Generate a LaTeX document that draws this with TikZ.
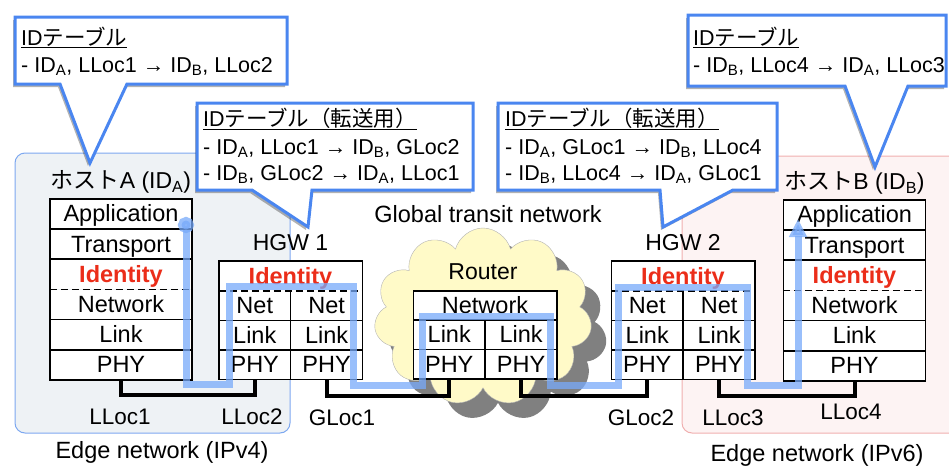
\documentclass[tikz,border=0pt]{standalone}
\usepackage{fontspec}
\setmainfont{Liberation Sans}
\newfontfamily\jpfont{Noto Sans CJK JP}
\usetikzlibrary{positioning,arrows.meta,shapes.symbols,shadows}
\definecolor{calloutblue}{RGB}{74,134,240}
\definecolor{flowblue}{RGB}{120,170,250}
\definecolor{idred}{RGB}{235,45,25}
\definecolor{edgefour}{RGB}{238,242,245}
\definecolor{edgefourline}{RGB}{125,168,240}
\definecolor{edgesix}{RGB}{253,243,243}
\definecolor{edgesixline}{RGB}{240,175,175}
\definecolor{cloudfill}{RGB}{255,250,200}
\definecolor{cloudshade}{RGB}{128,128,128}
\newcommand{\IDof}[1]{ID\textsubscript{#1}}

\begin{document}
\begin{tikzpicture}[x=1pt,y=-1pt,
    layer/.style={fill=white, minimum width=142pt, minimum height=29.8pt, inner sep=0pt,
      text height=17pt, text depth=1pt, font=\fontsize{23.5}{28}\selectfont},
    half/.style={layer, minimum width=71.5pt, minimum height=29pt},
    idlayer/.style={layer, text=idred, font=\fontsize{23.5}{28}\selectfont\bfseries},
    box/.style={line width=1.5pt},
    sep/.style={box, dash pattern=on 7pt off 4pt},
    title/.style={font=\fontsize{23}{28}\selectfont},
    loc/.style={font=\fontsize{22.5}{26}\selectfont},
    edgelabel/.style={font=\fontsize{23.5}{28}\selectfont},
    link/.style={line width=4pt},
    flow/.style={line width=7pt, flowblue, opacity=0.75},
    callout/.style={draw=calloutblue, line width=3pt, fill=white,
      drop shadow={shadow xshift=-2pt, shadow yshift=-3pt, opacity=0.3, fill=black}},
    tabletext/.style={align=left, anchor=base west, inner sep=0pt, font=\fontsize{21.5}{25.5}\selectfont}]
    \useasboundingbox (0,0) rectangle (949,466);

    % edge networks
    \draw[rounded corners=10pt, fill=edgefour, draw=edgefourline, line width=1pt] (15,153) rectangle (290,433);
    \draw[rounded corners=10pt, fill=edgesix, draw=edgesixline, line width=1pt] (682,156) rectangle (965,433);
    \node[edgelabel] (edgeA) at (162,452) {Edge network (IPv4)};
    \node[edgelabel] (edgeB) at (817,455) {Edge network (IPv6)};

    % transit cloud
    \node[cloud, cloud puffs=11, aspect=1.25, minimum width=218pt, minimum height=178pt, fill=cloudshade] (cloudSh) at (498,332) {};
    \node[cloud, cloud puffs=11, aspect=1.25, minimum width=218pt, minimum height=178pt, fill=cloudfill, draw=gray!60] (cloud) at (483,317) {};
    \node[edgelabel] (transit) at (488,214) {Global transit network};

    % hosts
    \foreach \h/\x/\y/\n in {a/121/213.9/A, b/854.5/214.9/B} {
      \node[title] (\h Lbl) at (\x,\y-32) {{\jpfont ホスト}\n\ (\IDof{\n})};
      \node[layer] (\h App) at (\x,\y) {Application};
      \node[layer, below=0pt of \h App] (\h Trn) {Transport};
      \node[idlayer, below=0pt of \h Trn] (\h Id) {Identity};
      \node[layer, below=0pt of \h Id] (\h Net) {Network};
      \node[layer, below=0pt of \h Net] (\h Lnk) {Link};
      \node[layer, below=0pt of \h Lnk] (\h Phy) {PHY};
      \draw[box] (\h App.north west) rectangle (\h Phy.south east);
      \foreach \r in {App,Trn,Net,Lnk}
        \draw[box] (\h\r.south west) -- (\h\r.south east);
      \draw[sep] (\h Id.south west) -- (\h Id.south east);
    }

    % home gateways
    \foreach \g/\x/\n in {g1/290.5/1, g2/683/2} {
      \node[title] (\g Lbl) at (\x,243) {HGW \n};
      \node[idlayer, minimum width=143pt, minimum height=30pt] (\g Id) at (\x,276) {Identity};
      \node[half, below right=0pt and 0pt of \g Id.south west] (\g NetL) {Net};
      \node[half, right=0pt of \g NetL] (\g NetR) {Net};
      \node[half, below=0pt of \g NetL] (\g LnkL) {Link};
      \node[half, below=0pt of \g NetR] (\g LnkR) {Link};
      \node[half, below=0pt of \g LnkL] (\g PhyL) {PHY};
      \node[half, below=0pt of \g LnkR] (\g PhyR) {PHY};
      \draw[box] (\g Id.north west) rectangle (\g PhyR.south east);
      \draw[sep] (\g Id.south west) -- (\g Id.south east);
      \draw[box] (\g NetL.south west) -- (\g NetR.south east);
      \draw[box] (\g LnkL.south west) -- (\g LnkR.south east);
      \draw[box] (\g NetL.north east) -- (\g PhyL.south east);
    }

    % router
    \node[title] (rLbl) at (483,272) {Router};
    \node[layer, minimum width=143pt, minimum height=29pt] (rNet) at (485,305.5) {Network};
    \node[half, below right=0pt and 0pt of rNet.south west] (rLnkL) {Link};
    \node[half, right=0pt of rLnkL] (rLnkR) {Link};
    \node[half, below=0pt of rLnkL] (rPhyL) {PHY};
    \node[half, below=0pt of rLnkR] (rPhyR) {PHY};
    \draw[box] (rNet.north west) rectangle (rPhyR.south east);
    \draw[box] (rNet.south west) -- (rNet.south east);
    \draw[box] (rLnkL.south west) -- (rLnkR.south east);
    \draw[box] (rLnkL.north east) -- (rPhyL.south east);

    % physical links and locators
    \draw[link] (aPhy.south) -- ++(0,15) -| (g1PhyL.south);
    \draw[link] (g1PhyR.south) -- ++(0,17) -| (rPhyL.south);
    \draw[link] (rPhyR.south) -- ++(0,17) -| (g2PhyL.south);
    \draw[link] (g2PhyR.south) -- ++(0,17) -| (bPhy.south);
    \node[loc] (lloc1) at (120,417) {LLoc1};
    \node[loc] (lloc2) at (252,417) {LLoc2};
    \node[loc] (gloc1) at (342,418) {GLoc1};
    \node[loc] (gloc2) at (641,418) {GLoc2};
    \node[loc] (lloc3) at (733,418) {LLoc3};
    \node[loc] (lloc4) at (851,412) {LLoc4};

    % packet flow
    \draw[flow, {Circle[length=16pt]}-{Triangle[length=18pt,width=17pt]}]
      (186,217) -- (186,384) -| (229,286) -| (353,385) -| (422,316)
      -| (550,385) -| (618,287) -| (747,385) -| (798,219);

    % ID tables
    \draw[callout] (15,17) -- (287,17) -- (287,84) -- (127,84) -- (90,163) -- (60,84) -- (15,84) -- cycle;
    \node[tabletext] (tblA) at (21,72)
      {\underline{ID{\jpfont テーブル}}\\[1.5pt]- \IDof{A}, LLoc1 → \IDof{B}, LLoc2};
    \draw[callout] (197,103) -- (473,103) -- (473,190) -- (312,190) -- (308,227) -- (252,190) -- (197,190) -- cycle;
    \node[tabletext] (tblG1) at (203,180)
      {\underline{ID{\jpfont テーブル（転送用）}}\\[3pt]- \IDof{A}, LLoc1 → \IDof{B}, GLoc2\\- \IDof{B}, GLoc2 → \IDof{A}, LLoc1};
    \draw[callout] (498,103) -- (777,103) -- (777,190) -- (733,190) -- (663,227) -- (660,190) -- (498,190) -- cycle;
    \node[tabletext] (tblG2) at (505,180)
      {\underline{ID{\jpfont テーブル（転送用）}}\\[3pt]- \IDof{A}, GLoc1 → \IDof{B}, LLoc4\\- \IDof{B}, LLoc4 → \IDof{A}, GLoc1};
    \draw[callout] (688,15) -- (946,15) -- (946,86) -- (908,86) -- (875,167) -- (845,86) -- (688,86) -- cycle;
    \node[tabletext] (tblB) at (693,72)
      {\underline{ID{\jpfont テーブル}}\\[1.5pt]- \IDof{B}, LLoc4 → \IDof{A}, LLoc3};
\end{tikzpicture}
\end{document}
